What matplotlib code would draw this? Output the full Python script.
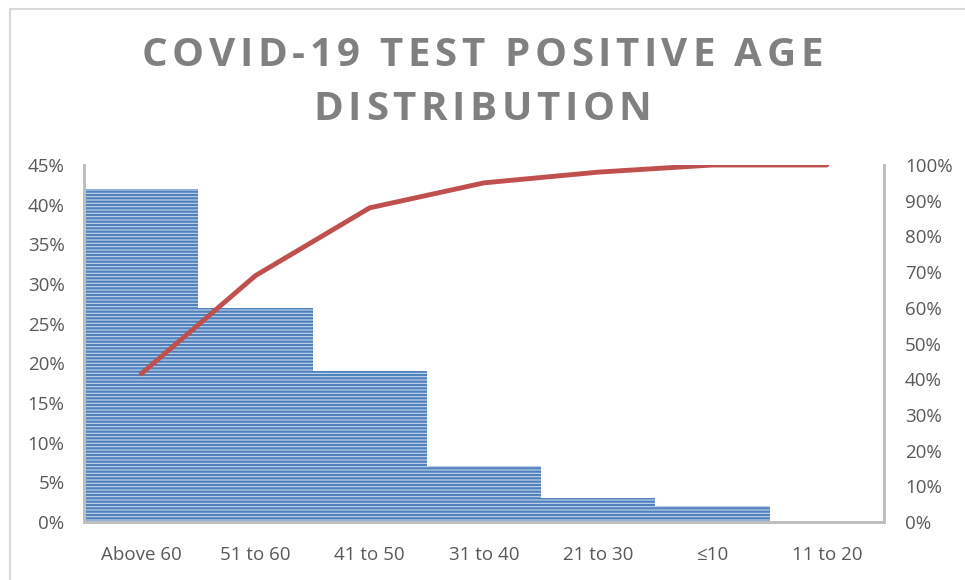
import matplotlib
matplotlib.use("Agg")
import matplotlib.pyplot as plt
from matplotlib.patches import Rectangle
from matplotlib.ticker import PercentFormatter

categories = ["Above 60", "51 to 60", "41 to 50", "31 to 40", "21 to 30", "≤10", "11 to 20"]
share = [42, 27, 19, 7, 3, 2, 0]            # % of positives per age group
cumulative = [41.5, 69, 88, 95, 98, 100, 100]  # cumulative %
title_lines = ["COVID-19 TEST POSITIVE AGE", "DISTRIBUTION"]

plt.rcParams['font.family'] = ['Open Sans', 'DejaVu Sans']
plt.rcParams['hatch.linewidth'] = 1.6
tick_color = "#595959"

fig = plt.figure(figsize=(9.65, 5.8), dpi=100)
ax = fig.add_axes([84 / 965, 58 / 580, 800 / 965, 357 / 580])

x = range(len(categories))
ax.bar(x, share, width=1.0, facecolor="#c6d6ec", edgecolor="#4f81bd",
       linewidth=0, hatch="-----")
ax.set_xlim(-0.5, len(categories) - 0.5)
ax.set_ylim(0, 45)
ax.set_yticks(range(0, 46, 5))
ax.yaxis.set_major_formatter(PercentFormatter(decimals=0))
ax.set_xticks(list(x))
ax.set_xticklabels(categories)

ax2 = ax.twinx()
ax2.plot(x, cumulative, color="#c0504d", linewidth=3.5, solid_capstyle="round")
ax2.set_ylim(0, 100)
ax2.set_yticks(range(0, 101, 10))
ax2.yaxis.set_major_formatter(PercentFormatter(decimals=0))

for a in (ax, ax2):
    a.spines["top"].set_visible(False)
    for s in ("left", "bottom", "right"):
        a.spines[s].set_color("#bfbfbf")
        a.spines[s].set_linewidth(2)
    a.tick_params(length=0, labelsize=13.5, colors=tick_color)
ax.tick_params(axis="x", pad=17)
ax.tick_params(axis="y", pad=14)
ax2.tick_params(axis="y", pad=15)
for lbl in ax2.get_yticklabels():
    lbl.set_horizontalalignment("left")

# title with extra letter spacing, drawn one character at a time
renderer = fig.canvas.get_renderer()
spacing = 4.6  # px between letters
for line, yc in zip(title_lines, [55, 110]):
    chars = [fig.text(0, 1 - yc / 580, c, ha="left", va="center", fontsize=29,
                      fontweight="bold", color="#808080") for c in line]
    widths = [t.get_window_extent(renderer).width if c != " " else 0
              for t, c in zip(chars, line)]
    space_w = fig.text(0, 0, "A A", fontsize=29, fontweight="bold")
    w_aa = space_w.get_window_extent(renderer).width
    w_a = fig.text(0, 0, "AA", fontsize=29, fontweight="bold")
    sp = w_aa - w_a.get_window_extent(renderer).width
    space_w.remove()
    w_a.remove()
    widths = [sp if c == " " else w for c, w in zip(line, widths)]
    total = sum(widths) + spacing * (len(line) - 1)
    xpos = 965 / 2 - total / 2
    for t, w in zip(chars, widths):
        t.set_x(xpos / 965)
        xpos += w + spacing

fig.patches.append(Rectangle((10 / 965, -0.1), 1.2, 1 - 9 / 580 + 0.1,
                             transform=fig.transFigure, fill=False,
                             edgecolor="#d9d9d9", linewidth=1.5))

fig.savefig("out.png", dpi=100)
